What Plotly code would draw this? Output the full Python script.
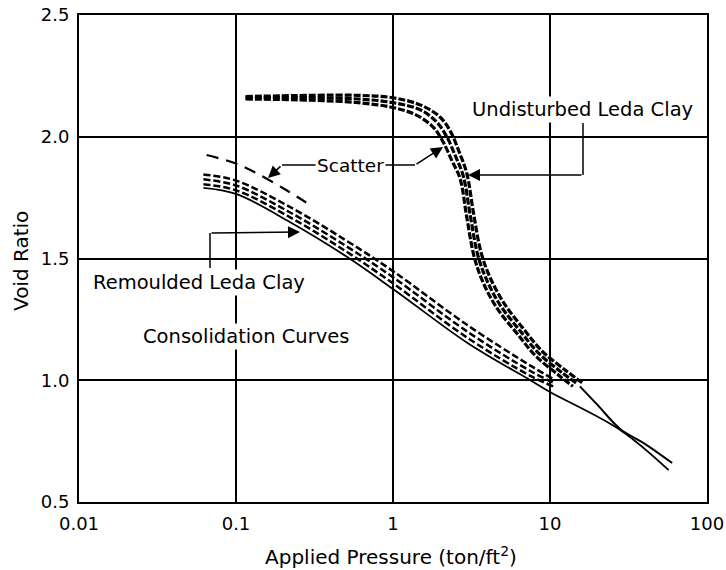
import plotly.graph_objects as go

# ---------------- data ----------------
# Undisturbed Leda Clay: band of three dashed curves
und_x1 = [0.115, 0.3, 0.6, 1.0, 1.5, 2.0, 2.33, 2.63, 2.95, 3.25, 3.62, 4.1, 5.05, 6.8, 8.9, 12.6, 16]
und_y1 = [2.165, 2.17, 2.17, 2.16, 2.13, 2.08, 2.02, 1.94, 1.85, 1.69, 1.53, 1.43, 1.32, 1.21, 1.12, 1.04, 0.99]
und_x2 = [0.115, 0.3, 0.6, 1.0, 1.5, 1.9, 2.2, 2.5, 2.8, 3.1, 3.45, 3.9, 4.8, 6.5, 8.5, 12, 15]
und_y2 = [2.16, 2.16, 2.155, 2.14, 2.11, 2.06, 2.0, 1.92, 1.84, 1.68, 1.52, 1.42, 1.31, 1.2, 1.11, 1.03, 0.985]
und_x3 = [0.115, 0.3, 0.6, 1.0, 1.4, 1.8, 2.08, 2.38, 2.67, 2.95, 3.28, 3.7, 4.55, 6.2, 8.1, 11.4, 14]
und_y3 = [2.155, 2.15, 2.14, 2.12, 2.09, 2.04, 1.98, 1.9, 1.83, 1.67, 1.51, 1.41, 1.30, 1.19, 1.10, 1.02, 0.975]
# Undisturbed: solid continuation at high pressure
und_tail_x = [15.5, 20, 28, 40, 60]
und_tail_y = [0.975, 0.90, 0.80, 0.74, 0.66]

# Remoulded Leda Clay: band of dashed curves + solid lower curve
rem_x = [0.062, 0.1, 0.22, 0.5, 1.0, 3.0, 7.5, 10.5]
rem_y1 = [1.845, 1.82, 1.712, 1.575, 1.448, 1.225, 1.06, 1.005]
rem_y2 = [1.825, 1.80, 1.69, 1.552, 1.423, 1.198, 1.038, 0.99]
rem_y3 = [1.805, 1.78, 1.67, 1.53, 1.398, 1.173, 1.018, 0.975]
rem_solid_x = [0.062, 0.1, 0.22, 0.5, 1.0, 3.0, 7.5, 10, 28, 57]
rem_solid_y = [1.79, 1.765, 1.65, 1.51, 1.375, 1.152, 1.0, 0.952, 0.796, 0.631]
# Remoulded scatter: upper long-dashed curve
sc_x = [0.065, 0.1, 0.14, 0.21, 0.28]
sc_y = [1.925, 1.89, 1.845, 1.78, 1.73]

x_tickvals = [0.01, 0.1, 1, 10, 100]
x_ticktext = ["0.01", "0.1", "1", "10", "100"]
y_tickvals = [0.5, 1.0, 1.5, 2.0, 2.5]
y_ticktext = ["0.5", "1.0", "1.5", "2.0", "2.5"]

# ---------------- layout helpers ----------------
W, H = 726, 570
L, R, T, B = 79, 19, 15, 68
PW, PH = W - L - R, H - T - B
FONT = "DejaVu Sans"


def px(x):
    return (x - L) / PW


def py(y):
    return (H - B - y) / PH


fig = go.Figure()

und_line = dict(color="black", width=3.2, dash="7px,2px")
for xs, ys in [(und_x1, und_y1), (und_x2, und_y2), (und_x3, und_y3)]:
    fig.add_trace(go.Scatter(x=xs, y=ys, mode="lines", line=und_line,
                             line_shape="spline", showlegend=False, hoverinfo="skip"))
fig.add_trace(go.Scatter(x=und_tail_x, y=und_tail_y, mode="lines",
                         line=dict(color="black", width=2), line_shape="spline",
                         showlegend=False, hoverinfo="skip"))

rem_line = dict(color="black", width=2.5, dash="7px,3px")
for ys in [rem_y1, rem_y2, rem_y3]:
    fig.add_trace(go.Scatter(x=rem_x, y=ys, mode="lines", line=rem_line,
                             line_shape="spline", showlegend=False, hoverinfo="skip"))
fig.add_trace(go.Scatter(x=rem_solid_x, y=rem_solid_y, mode="lines",
                         line=dict(color="black", width=1.8), line_shape="spline",
                         showlegend=False, hoverinfo="skip"))
fig.add_trace(go.Scatter(x=sc_x, y=sc_y, mode="lines",
                         line=dict(color="black", width=2.2, dash="12px,8px"),
                         line_shape="spline", showlegend=False, hoverinfo="skip"))

# ---------------- annotations ----------------
texts = [
    ("Undisturbed Leda Clay", 582, 110, 19.5),
    ("Scatter", 350, 165, 18.5),
    ("Remoulded Leda Clay", 199, 282, 19.5),
    ("Consolidation Curves", 246, 337, 19.5),
]
for t, x, y, s in texts:
    fig.add_annotation(text=t, x=px(x), y=py(y), xref="paper", yref="paper",
                       xanchor="center", yanchor="middle",
                       showarrow=False, bgcolor="white", borderpad=1,
                       font=dict(family=FONT, size=s, color="black"))

# leader lines
segs = [
    (316, 165, 282, 165),
    (385, 165, 415, 165),
    (583, 123, 583, 175),
    (210, 268, 210, 233),
]
for x0, y0, x1, y1 in segs:
    fig.add_shape(type="line", xref="paper", yref="paper",
                  x0=px(x0), y0=py(y0), x1=px(x1), y1=py(y1),
                  line=dict(color="black", width=1.5))

arrows = [
    (282, 165, 268, 178),
    (415, 165, 443, 147),
    (583, 175, 468, 175),
    (210, 233, 300, 232),
]
for x0, y0, x1, y1 in arrows:
    fig.add_annotation(x=px(x1), y=py(y1), xref="paper", yref="paper",
                       ax=x0 - x1, ay=y0 - y1, axref="pixel", ayref="pixel",
                       text="", showarrow=True, arrowhead=2, arrowsize=1.6,
                       arrowwidth=1.5, arrowcolor="black", standoff=0)

# axis titles
fig.add_annotation(text="Void Ratio", x=px(21), y=py(261), xref="paper", yref="paper",
                   xanchor="center", yanchor="middle",
                   textangle=-90, showarrow=False,
                   font=dict(family=FONT, size=20, color="black"))
fig.add_annotation(text="Applied Pressure (ton/ft<sup>2</sup>)", x=px(391), y=py(556),
                   xref="paper", yref="paper", xanchor="center", yanchor="middle",
                   showarrow=False,
                   font=dict(family=FONT, size=20, color="black"))

axis_common = dict(showline=True, linecolor="black", linewidth=2, mirror=True,
                   showgrid=True, gridcolor="black", gridwidth=1.5, zeroline=False,
                   automargin=False, ticks="",
                   tickfont=dict(family=FONT, size=18, color="black"))
fig.update_xaxes(type="log", range=[-2, 2], tickvals=x_tickvals, ticktext=x_ticktext,
                 ticklabelstandoff=4, **axis_common)
fig.update_yaxes(range=[0.5, 2.5], tickvals=y_tickvals, ticktext=y_ticktext,
                 ticklabelstandoff=4, **axis_common)

fig.update_layout(width=W, height=H, margin=dict(l=L, r=R, t=T, b=B),
                  plot_bgcolor="white", paper_bgcolor="white",
                  font=dict(family=FONT, color="black"), showlegend=False)

fig.write_html("out.html")
